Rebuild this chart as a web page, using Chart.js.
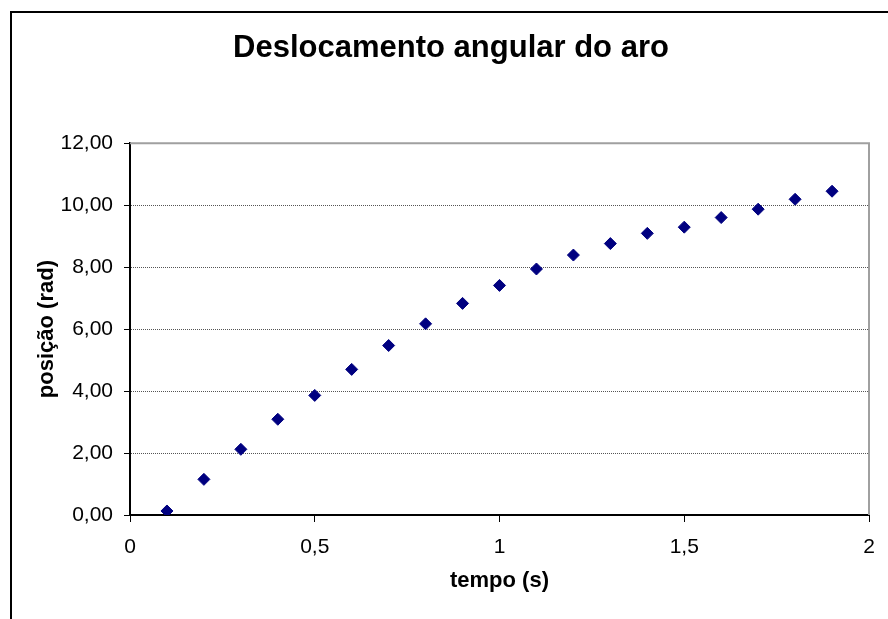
<!DOCTYPE html>
<html>
<head>
<meta charset="utf-8">
<script src="https://cdn.jsdelivr.net/npm/chart.js@4.4.1/dist/chart.umd.min.js"></script>
<style>
    html, body { margin: 0; padding: 0; background: #fff; }
    #wrap { width: 888px; height: 619px; position: relative; }
</style>
</head>
<body>
<div id="wrap"><canvas id="chart"></canvas></div>
<script>
        // tempo (s) e posição (rad)
        const tempo = [0.1, 0.2, 0.3, 0.4, 0.5, 0.6, 0.7, 0.8, 0.9, 1.0, 1.1, 1.2, 1.3, 1.4, 1.5, 1.6, 1.7, 1.8, 1.9];
        const posicao = [0.13, 1.15, 2.12, 3.09, 3.86, 4.70, 5.47, 6.17, 6.83, 7.41, 7.94, 8.39, 8.76, 9.09, 9.29, 9.60, 9.87, 10.19, 10.45];

        const xMin = 0, xMax = 2, xStep = 0.5;
        const yMin = 0, yMax = 12, yStep = 2;

        const titulo = 'Deslocamento angular do aro';
        const tituloX = 'tempo (s)';
        const tituloY = 'posição (rad)';

        const fontFamily = "'Liberation Sans', Arial, sans-serif";

        const bordas = {
            id: 'bordas',
            beforeDatasetsDraw(chart) {
                const ctx = chart.ctx;
                const a = chart.chartArea;
                ctx.save();
                ctx.strokeStyle = '#a0a0a0';
                ctx.lineWidth = 2;
                ctx.beginPath();
                ctx.moveTo(a.left, a.top);
                ctx.lineTo(a.right, a.top);
                ctx.lineTo(a.right, a.bottom);
                ctx.stroke();
                ctx.restore();
            },
            afterDraw(chart) {
                const ctx = chart.ctx;
                ctx.save();
                ctx.strokeStyle = '#000';
                ctx.lineWidth = 2;
                ctx.beginPath();
                ctx.moveTo(chart.width, 12);
                ctx.lineTo(11, 12);
                ctx.lineTo(11, chart.height);
                ctx.stroke();
                ctx.restore();
            }
        };

        const ctx = document.getElementById('chart').getContext('2d');
        const chart = new Chart(ctx, {
            type: 'scatter',
            data: {
                datasets: [{
                    label: tituloY,
                    data: tempo.map((t, i) => ({ x: t, y: posicao[i] })),
                    pointStyle: 'rectRot',
                    pointRadius: 6,
                    pointBorderWidth: 1,
                    backgroundColor: '#000080',
                    borderColor: '#000080'
                }]
            },
            options: {
                responsive: true,
                maintainAspectRatio: false,
                animation: false,
                layout: { padding: { left: 33, right: 19, top: 0, bottom: 0 } },
                plugins: {
                    legend: { display: false },
                    tooltip: { enabled: false },
                    title: {
                        display: true,
                        text: titulo,
                        color: '#000',
                        font: { family: fontFamily, size: 31, weight: 'bold' },
                        padding: { top: 30, bottom: 76 }
                    }
                },
                scales: {
                    x: {
                        type: 'linear',
                        min: xMin,
                        max: xMax,
                        afterFit(scale) { scale.height = 104; },
                        ticks: {
                            stepSize: xStep,
                            color: '#000',
                            padding: 13,
                            font: { family: fontFamily, size: 21 },
                            callback: v => String(v).replace('.', ',')
                        },
                        grid: {
                            drawOnChartArea: false,
                            drawTicks: true,
                            tickLength: 7,
                            tickColor: '#000'
                        },
                        border: { display: true, color: '#000', width: 2 },
                        title: {
                            display: true,
                            text: tituloX,
                            color: '#000',
                            font: { family: fontFamily, size: 22, weight: 'bold' },
                            padding: { top: 0, bottom: 25 }
                        }
                    },
                    y: {
                        type: 'linear',
                        min: yMin,
                        max: yMax,
                        afterFit(scale) { scale.width = 97; },
                        ticks: {
                            stepSize: yStep,
                            color: '#000',
                            padding: 11,
                            font: { family: fontFamily, size: 21 },
                            callback: v => v.toFixed(2).replace('.', ',')
                        },
                        grid: {
                            color: '#555',
                            lineWidth: 1,
                            drawTicks: true,
                            tickLength: 6,
                            tickColor: '#000',
                            tickBorderDash: []
                        },
                        border: { display: true, color: '#000', width: 2, dash: [1, 1] },
                        title: {
                            display: true,
                            text: tituloY,
                            color: '#000',
                            font: { family: fontFamily, size: 22, weight: 'bold' },
                            padding: { top: 1, bottom: 0 }
                        }
                    }
                }
            },
            plugins: [bordas]
        });
</script>
</body>
</html>
